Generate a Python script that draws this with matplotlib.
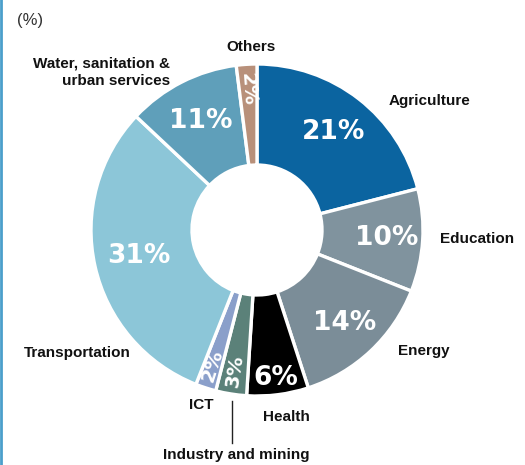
import numpy as np
import matplotlib
matplotlib.use('Agg')
import matplotlib.pyplot as plt
from matplotlib.lines import Line2D

# Sector shares (%), clockwise from 12 o'clock
sectors = ['Agriculture', 'Education', 'Energy', 'Health', 'Industry and mining',
           'ICT', 'Transportation', 'Water, sanitation &\nurban services', 'Others']
shares = [21, 10, 14, 6, 3, 2, 31, 11, 2]

colors = ['#0b64a0', '#80939e', '#7b8d98', '#000000', '#5b8179',
          '#8a9fca', '#8cc6d8', '#5f9fba', '#b8907a']

# Distance of each percent label from the centre (outer radius = 1)
pct_dist = [0.75, 0.78, 0.77, 0.90, 0.86, 0.86, 0.73, 0.74, 0.85]
small = 3   # slices this size or less get radial labels

W, H = 525, 465
cx, cy, R = 257, 230, 166      # donut centre and outer radius, pixels
hole = 65 / R

fig = plt.figure(figsize=(W / 100, H / 100), dpi=100)
ax = fig.add_axes([(cx - R) / W, (H - cy - R) / H, 2 * R / W, 2 * R / H])

label_font = ['Liberation Sans', 'DejaVu Sans']

wedges, _ = ax.pie(shares, colors=colors, startangle=90, counterclock=False,
                   radius=1, wedgeprops=dict(width=1 - hole, edgecolor='white',
                                             linewidth=2.4))
ax.set_xlim(-1, 1)
ax.set_ylim(-1, 1)
ax.axis('off')

# Percent labels inside the ring
for w, v, d in zip(wedges, shares, pct_dist):
    mid = np.deg2rad((w.theta1 + w.theta2) / 2)
    x, y = d * np.cos(mid), d * np.sin(mid)
    if v <= small:
        ang = np.rad2deg(mid)
        rot = ang + 180 if np.sin(mid) < 0 else ang - 180
        ax.text(x, y, f'{v}%', color='white', fontsize=14, fontweight='bold',
                rotation=rot, ha='center', va='center', rotation_mode='anchor')
    else:
        ax.text(x, y, f'{v}%', color='white', fontsize=19, fontweight='bold',
                ha='center', va='center')


def px(x, y):
    return (x - cx) / R, (cy - y) / R


# Category names around the donut: (pixel x, pixel y, ha)
name_pos = [(389, 101, 'left'), (440, 239, 'left'), (398, 351, 'left'),
            (286, 417, 'center'), (236, 455, 'center'), (201, 405, 'center'),
            (131, 353, 'right'), (170, 72, 'right'), (251, 47, 'center')]
for name, (x, y, ha) in zip(sectors, name_pos):
    tx, ty = px(x, y)
    ax.text(tx, ty, name, fontsize=11, fontweight='bold', family=label_font,
            color='#111111', ha=ha, va='center', linespacing=1.3,
            multialignment='right' if ha == 'right' else 'center',
            clip_on=False)

# Leader line for Industry and mining
x0, y0 = px(232, 401)
x1, y1 = px(232, 443)
ax.add_line(Line2D([x0, x1], [y0, y1], color='#222222', lw=1, clip_on=False))

fig.text(17 / W, 1 - 21 / H, '(%)', fontsize=12, color='#333333',
         family=label_font, ha='left', va='center')

# Blue rule on the left edge
fig.add_artist(Line2D([1 / W, 1 / W], [0, 1], color='#4b9fcb', lw=2,
                      transform=fig.transFigure))

fig.savefig('out.png', dpi=100)
